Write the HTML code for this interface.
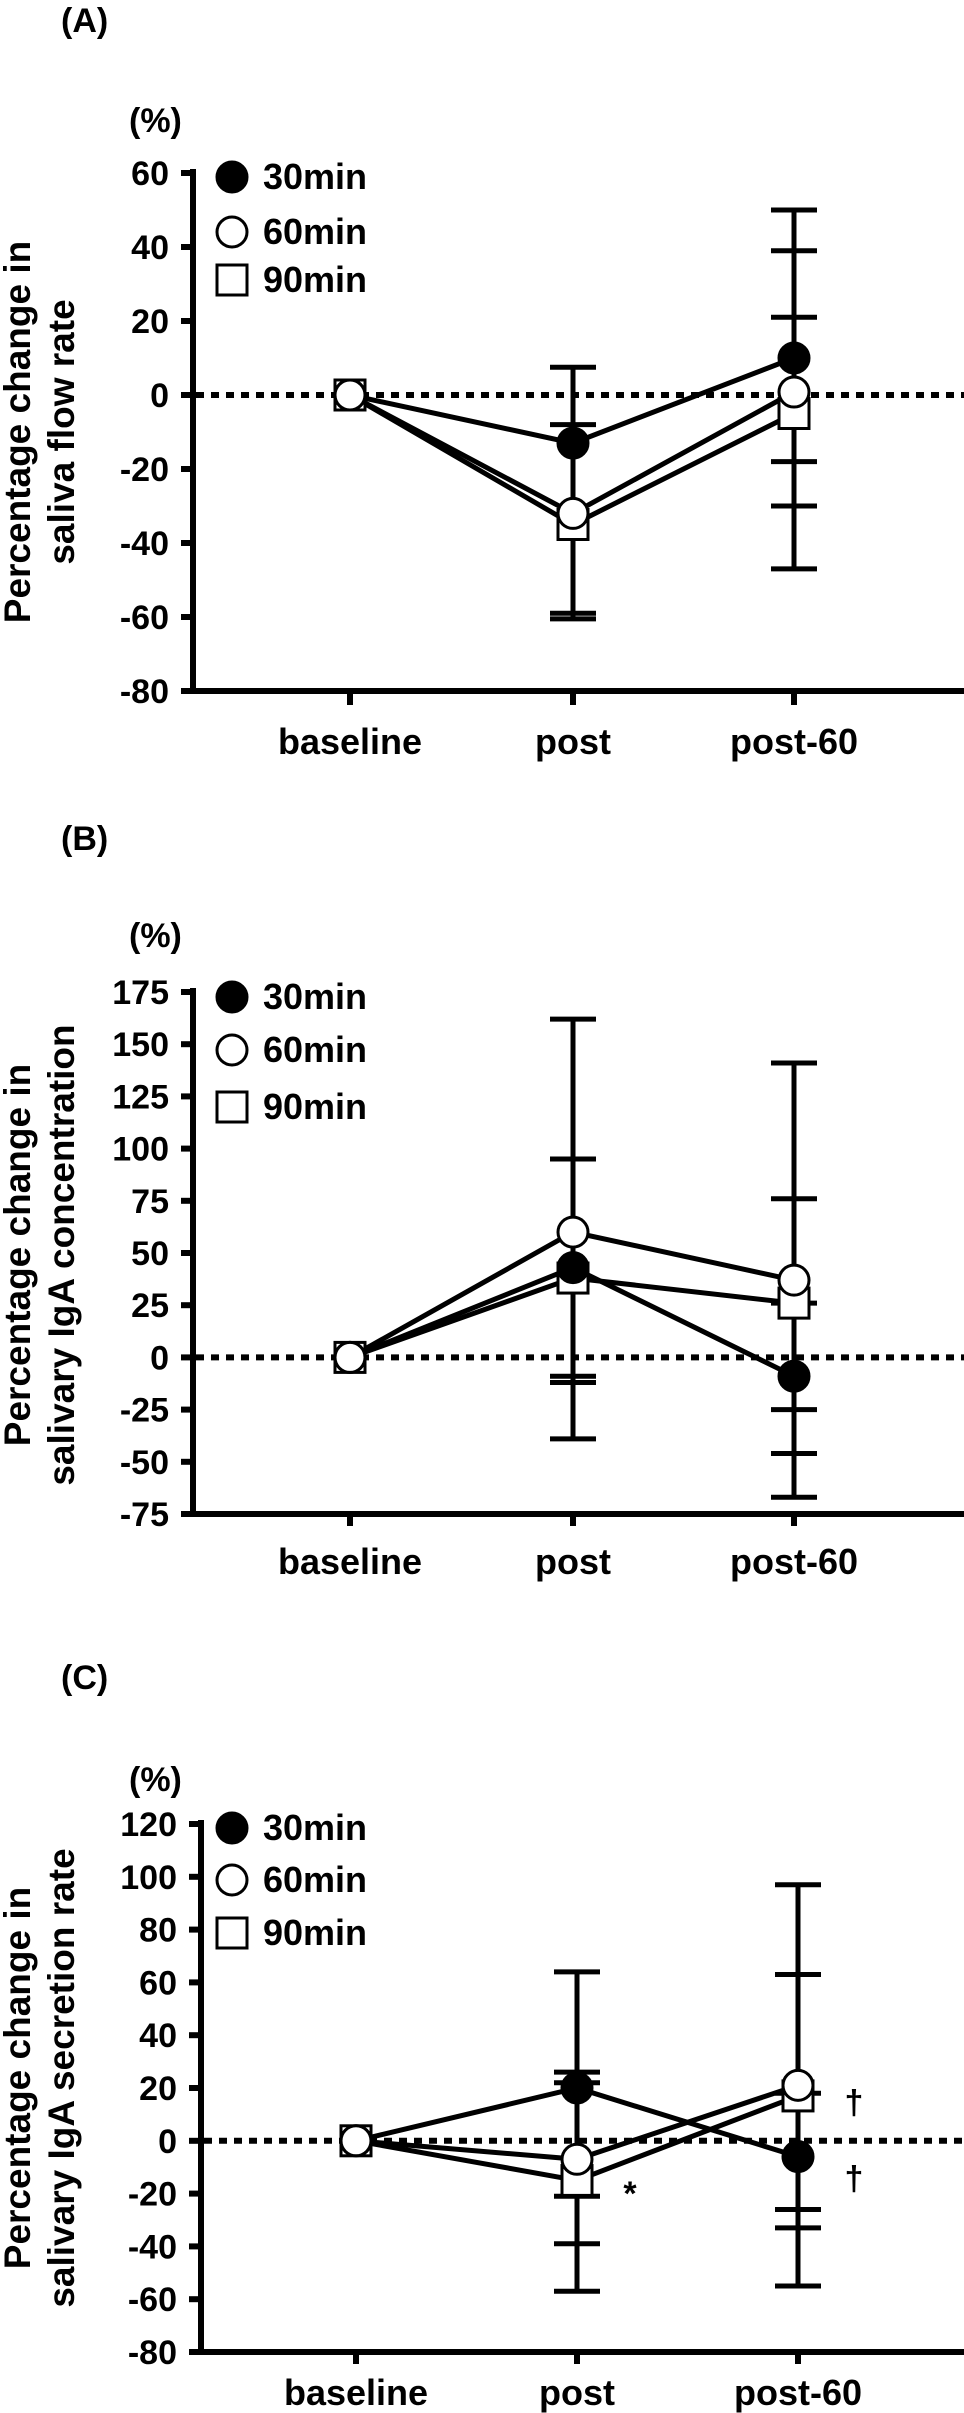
<!DOCTYPE html>
<html><head><meta charset="utf-8">
<style>
html,body{margin:0;padding:0;background:#fff;}
svg{display:block;}
text{font-family:"Liberation Sans",Arial,sans-serif;font-weight:bold;fill:#000;}
</style></head>
<body>
<svg id="fig" width="964" height="2413" viewBox="0 0 964 2413" xmlns="http://www.w3.org/2000/svg"></svg>
<script>
// ---- data ----
const categories = ["baseline","post","post-60"];
const seriesNames = ["30min","60min","90min"];
// Panel A: saliva flow rate
const aTicks = [60,40,20,0,-20,-40,-60,-80];
const a30 = [0,-13,10];
const a60 = [0,-32,0.8];
const a90 = [0,-35,-5];
const a30Hi = [null,7.5,50];
const a30Lo = [null,null,-18];
const a60Hi = [null,null,39];
const a60Lo = [null,-59,-47];
const a90Hi = [null,-8,21];
const a90Lo = [null,-60.5,-30];
// Panel B: salivary IgA concentration
const bTicks = [175,150,125,100,75,50,25,0,-25,-50,-75];
const b30 = [0,43,-9];
const b60 = [0,60,37];
const b90 = [0,38,26];
const b30Hi = [null,95,26];
const b30Lo = [null,-12,-46];
const b60Hi = [null,162,141];
const b60Lo = [null,-39,-67];
const b90Hi = [null,null,76];
const b90Lo = [null,-9,-25];
// Panel C: salivary IgA secretion rate
const cTicks = [120,100,80,60,40,20,0,-20,-40,-60,-80];
const c30 = [0,20,-6];
const c60 = [0,-7,21];
const c90 = [0,-15,17];
const c30Hi = [null,64,97];
const c30Lo = [null,-21,-55];
const c60Hi = [null,26,63];
const c60Lo = [null,-57,-33];
const c90Hi = [null,22,18];
const c90Lo = [null,-39,-26];

const NS="http://www.w3.org/2000/svg";
const svg=document.getElementById('fig');
function mk(tag,attrs,parent){const e=document.createElementNS(NS,tag);for(const k in attrs)e.setAttribute(k,attrs[k]);(parent||svg).appendChild(e);return e;}

const panels=[
 {id:'a',label:'(A)',labelY:20,pctY:120,title:['Percentage change in','saliva flow rate'],titleY:432,
  axisX:193,yTop:173,yBot:691,vMax:60,vMin:-80,ticks:aTicks,catX:[350,573,794],catY:741,tickEnd:705,legY:[177,232,280],
  s:[a30,a60,a90],hi:[a30Hi,a60Hi,a90Hi],lo:[a30Lo,a60Lo,a90Lo],notes:[]},
 {id:'b',label:'(B)',labelY:838,pctY:935,title:['Percentage change in','salivary IgA concentration'],titleY:1255,
  axisX:193,yTop:992,yBot:1514,vMax:175,vMin:-75,ticks:bTicks,catX:[350,573,794],catY:1561,tickEnd:1526,legY:[997,1050,1107],
  s:[b30,b60,b90],hi:[b30Hi,b60Hi,b90Hi],lo:[b30Lo,b60Lo,b90Lo],notes:[]},
 {id:'c',label:'(C)',labelY:1677,pctY:1779,title:['Percentage change in','salivary IgA secretion rate'],titleY:2078,
  axisX:201,yTop:1824,yBot:2352,vMax:120,vMin:-80,ticks:cTicks,catX:[356,577,798],catY:2392,tickEnd:2364,legY:[1828,1880,1933],
  s:[c30,c60,c90],hi:[c30Hi,c60Hi,c90Hi],lo:[c30Lo,c60Lo,c90Lo],
  notes:[['*',630,2205],['†',854,2114],['†',854,2190]]}
];

function marker(g,k,x,y,r){
  if(k===2){return mk('rect',{x:x-r,y:y-r,width:2*r,height:2*r,fill:'#fff',stroke:'#000','stroke-width':3},g);}
  return mk('circle',{cx:x,cy:y,r:r,fill:k===0?'#000':'#fff',stroke:'#000','stroke-width':3},g);
}

panels.forEach(p=>{
  const g=mk('g',{});
  
  
  const Y=v=>p.yTop+(p.vMax-v)*(p.yBot-p.yTop)/(p.vMax-p.vMin);
  let t=mk('text',{x:61,y:p.labelY+12,'font-size':34},g);t.textContent=p.label;
  
  
  t=mk('text',{x:129,y:p.pctY+12,'font-size':34},g);t.textContent='(%)';
  
  
  const tg=mk('g',{transform:'translate(0,'+p.titleY+') rotate(-90)'},g);
  
  
  mk('text',{x:0,y:30,'font-size':37,'text-anchor':'middle'},tg).textContent=p.title[0];
  mk('text',{x:0,y:74,'font-size':37,'text-anchor':'middle'},tg).textContent=p.title[1];
  const ax=mk('line',{x1:p.axisX,y1:p.yTop-4,x2:p.axisX,y2:p.yBot+3,stroke:'#000','stroke-width':6},g);
  
  
  const xa=mk('line',{x1:p.axisX-3,y1:p.yBot,x2:964,y2:p.yBot,stroke:'#000','stroke-width':6},g);
  
  
  p.ticks.forEach(v=>{
    mk('line',{x1:p.axisX-12,y1:Y(v),x2:p.axisX,y2:Y(v),stroke:'#000','stroke-width':6},g);
    const tt=mk('text',{x:p.axisX-24,y:Y(v)+12,'font-size':34,'text-anchor':'end'},g);
    tt.textContent=String(v);
    
    
  });
  categories.forEach((c,i)=>{
    mk('line',{x1:p.catX[i],y1:p.yBot,x2:p.catX[i],y2:p.tickEnd,stroke:'#000','stroke-width':6},g);
    const ct=mk('text',{x:p.catX[i],y:p.catY+13,'font-size':36,'text-anchor':'middle'},g);
    ct.textContent=c;
    
    
  });
  const z=mk('line',{x1:p.axisX+3,y1:Y(0),x2:964,y2:Y(0),stroke:'#000','stroke-width':6,'stroke-dasharray':'8 7'},g);
  
  
  p.s.forEach((vals,k)=>{
    const pts=vals.map((v,i)=>p.catX[i]+','+Y(v)).join(' ');
    const pl=mk('polyline',{points:pts,fill:'none',stroke:'#000','stroke-width':5},g);
    
    
  });
  p.s.forEach((vals,k)=>{
    vals.forEach((v,i)=>{
      [p.hi[k][i],p.lo[k][i]].forEach(e=>{
        if(e===null)return;
        const x=p.catX[i];
        const eg=mk('g',{},g);
        
        
        mk('line',{x1:x,y1:Y(v),x2:x,y2:Y(e),stroke:'#000','stroke-width':5},eg);
        mk('line',{x1:x-23,y1:Y(e),x2:x+23,y2:Y(e),stroke:'#000','stroke-width':5},eg);
      });
    });
  });
  [2,0,1].forEach(k=>{
    p.s[k].forEach((v,i)=>{
      const m=marker(g,k,p.catX[i],Y(v),15);
      
      
    });
  });
  seriesNames.forEach((n,k)=>{
    const lg=mk('g',{},g);
    
    
    marker(lg,k,232,p.legY[k],15);
    mk('text',{x:263,y:p.legY[k]+12,'font-size':36},lg).textContent=n;
  });
  p.notes.forEach(nt=>{
    const a=mk('text',{x:nt[1],y:nt[2],'font-size':34,'text-anchor':'middle'},g);
    a.textContent=nt[0];
    
    
  });
});
</script>
</body></html>
